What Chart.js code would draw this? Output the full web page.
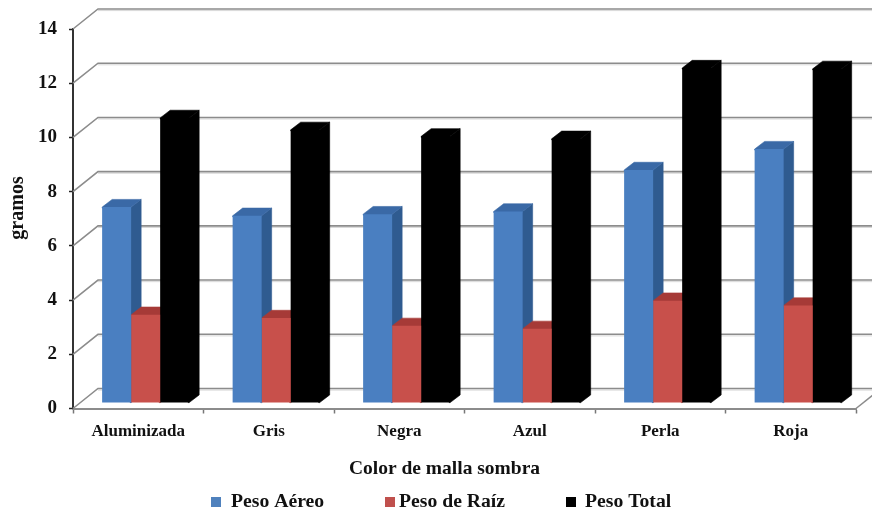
<!DOCTYPE html>
<html>
<head>
<meta charset="utf-8">
<style>
html, body { margin: 0; padding: 0; background: #fff; }
#wrap { position: relative; width: 872px; height: 513px; }
</style>
<script src="https://cdn.jsdelivr.net/npm/chart.js@4/dist/chart.umd.min.js"></script>
</head>
<body>
<div id="wrap"><canvas id="chart"></canvas></div>
<script>
const categories = ['Aluminizada', 'Gris', 'Negra', 'Azul', 'Perla', 'Roja'];
const pesoAereo = [7.23, 6.91, 6.97, 7.07, 8.6, 9.37];
const pesoRaiz = [3.26, 3.14, 2.85, 2.74, 3.78, 3.6];
const pesoTotal = [10.52, 10.08, 9.84, 9.75, 12.36, 12.33];

const serif = '"Liberation Serif", "Times New Roman", serif';

// offsets of the fake 3D box
const WALL_DX = 25, WALL_DY = -20;
const BAR_SHIFT_X = 7.4, BAR_SHIFT_Y = -5.4;
const BAR_DX = 10, BAR_DY = -7.7;

const faces = [
    { side: '#2f5b90', top: '#3a69a6' },
    { side: '#8f3432', top: '#a63a37' },
    { side: '#000000', top: '#000000' }
];

const box3d = {
    id: 'box3d',
    beforeDatasetsDraw(chart) {
        const { ctx, chartArea: area, scales: { y } } = chart;
        ctx.save();
        y.ticks.forEach(t => {
            const py = y.getPixelForValue(t.value);
            // soft halo under the line
            ctx.strokeStyle = '#d8d8d8';
            ctx.lineWidth = 1;
            ctx.beginPath();
            ctx.moveTo(area.left + WALL_DX, py + WALL_DY + 1.6);
            ctx.lineTo(chart.width, py + WALL_DY + 1.6);
            ctx.stroke();
            ctx.strokeStyle = '#8c8c8c';
            ctx.lineWidth = 1.6;
            ctx.beginPath();
            ctx.moveTo(area.left, py);
            ctx.lineTo(area.left + WALL_DX, py + WALL_DY);
            ctx.lineTo(chart.width, py + WALL_DY);
            ctx.stroke();
        });
        ctx.beginPath();
        ctx.moveTo(area.right, area.bottom);
        ctx.lineTo(area.right + WALL_DX, area.bottom + WALL_DY);
        ctx.stroke();

        // side and top faces go first, left series to right, fronts cover them afterwards
        ctx.translate(BAR_SHIFT_X, BAR_SHIFT_Y);
        ctx.lineWidth = 0.6;
        chart.data.datasets.forEach((ds, i) => {
            const face = faces[i];
            chart.getDatasetMeta(i).data.forEach(el => {
                const b = el.getProps(['x', 'y', 'base', 'width'], true);
                const l = b.x - b.width / 2, r = b.x + b.width / 2;
                // faces run 1px under the front so no seam shows
                ctx.fillStyle = ctx.strokeStyle = face.side;
                ctx.beginPath();
                ctx.moveTo(r - 1, b.y);
                ctx.lineTo(r, b.y);
                ctx.lineTo(r + BAR_DX, b.y + BAR_DY);
                ctx.lineTo(r + BAR_DX, b.base + BAR_DY);
                ctx.lineTo(r, b.base);
                ctx.lineTo(r - 1, b.base);
                ctx.closePath();
                ctx.fill();
                ctx.stroke();
                ctx.fillStyle = ctx.strokeStyle = face.top;
                ctx.beginPath();
                ctx.moveTo(l, b.y + 1);
                ctx.lineTo(l, b.y);
                ctx.lineTo(l + BAR_DX, b.y + BAR_DY);
                ctx.lineTo(r + BAR_DX, b.y + BAR_DY);
                ctx.lineTo(r, b.y);
                ctx.lineTo(r, b.y + 1);
                ctx.closePath();
                ctx.fill();
                ctx.stroke();
            });
        });
        ctx.restore();
    },
    beforeDatasetDraw(chart) {
        chart.ctx.save();
        chart.ctx.translate(BAR_SHIFT_X, BAR_SHIFT_Y);
    },
    afterDatasetDraw(chart) {
        chart.ctx.restore();
    },
    afterDraw(chart) {
        const ctx = chart.ctx;
        const { x, y } = chart.scales;
        ctx.save();
        ctx.fillStyle = '#111';
        // axis titles are off-centre in the original
        ctx.font = 'bold 19.5px ' + serif;
        ctx.textAlign = 'center';
        ctx.textBaseline = 'middle';
        ctx.fillText(x.options.title.text, 444.5, 468.5);
        ctx.font = 'bold 20px ' + serif;
        ctx.textBaseline = 'alphabetic';
        ctx.save();
        ctx.translate(23, 208);
        ctx.rotate(-Math.PI / 2);
        ctx.fillText(y.options.title.text, 0, 0);
        ctx.restore();
        // legend: spacing in the original is uneven
        const boxX = [211, 385, 566], textX = [231, 399, 585];
        ctx.font = 'bold 19.7px ' + serif;
        ctx.textAlign = 'left';
        ctx.textBaseline = 'middle';
        chart.data.datasets.forEach((ds, i) => {
            ctx.fillStyle = ds.legendColor;
            ctx.fillRect(boxX[i], 497, 10, 10);
            ctx.fillStyle = '#111';
            ctx.fillText(ds.label, textX[i], 502);
        });
        ctx.restore();
    }
};

new Chart(document.getElementById('chart'), {
    type: 'bar',
    data: {
        labels: categories,
        datasets: [
            { label: 'Peso A\u00e9reo', data: pesoAereo, backgroundColor: '#4a7fc1', legendColor: '#4f81bd', clip: false },
            { label: 'Peso de Ra\u00edz', data: pesoRaiz, backgroundColor: '#c8504b', legendColor: '#c0504d', clip: false },
            { label: 'Peso Total', data: pesoTotal, backgroundColor: '#000000', legendColor: '#000000', clip: false }
        ]
    },
    options: {
        responsive: true,
        maintainAspectRatio: false,
        animation: false,
        layout: { padding: { top: 29, right: 16, bottom: 0, left: 0 } },
        datasets: { bar: { categoryPercentage: 0.667, barPercentage: 1 } },
        plugins: {
            legend: { display: false },
            tooltip: { enabled: false }
        },
        scales: {
            x: {
                afterFit: s => { s.height = 104.5; },
                grid: { drawOnChartArea: false, tickLength: 5, tickColor: '#777', tickWidth: 1.5 },
                border: { color: '#8c8c8c', width: 2 },
                ticks: {
                    color: '#111',
                    padding: 8,
                    maxRotation: 0,
                    font: { family: serif, weight: 'bold', size: 17 }
                },
                title: { display: false, text: 'Color de malla sombra' }
            },
            y: {
                min: 0,
                max: 14,
                afterFit: s => { s.width = 73; },
                grid: { drawOnChartArea: false, tickLength: 4, tickColor: '#222', tickWidth: 1.5 },
                border: { color: '#333', width: 2 },
                ticks: {
                    stepSize: 2,
                    color: '#111',
                    padding: 12,
                    font: { family: serif, weight: 'bold', size: 19 }
                },
                title: { display: false, text: 'gramos' }
            }
        }
    },
    plugins: [box3d]
});
</script>
</body>
</html>
